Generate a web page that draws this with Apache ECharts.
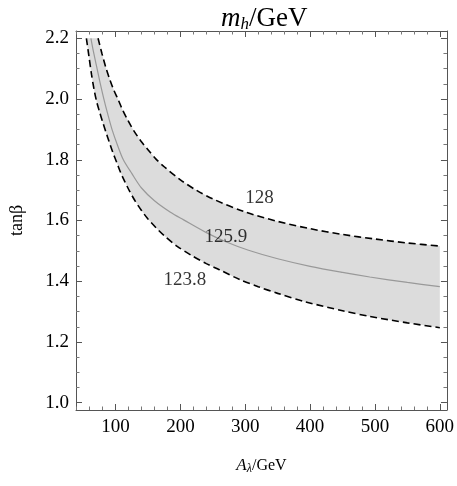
<!DOCTYPE html>
<html>
<head>
<meta charset="utf-8">
<script src="https://cdn.jsdelivr.net/npm/echarts@6/dist/echarts.min.js"></script>
<style>
  html, body { margin: 0; padding: 0; background: #fff; }
  #chart { width: 457px; height: 486px; }
</style>
</head>
<body>
<div id="chart"></div>
<script>
// curve m_h = 128 (upper dashed)
const upperA = [73, 79, 85, 91, 97, 104, 110, 119, 128, 139, 150, 162, 175, 200, 225, 250, 300, 350, 400, 450, 500, 550, 600];
const upperT = [2.20, 2.15, 2.104, 2.065, 2.031, 1.998, 1.968, 1.930, 1.896, 1.862, 1.833, 1.803, 1.777, 1.734, 1.699, 1.671, 1.628, 1.597, 1.573, 1.554, 1.539, 1.526, 1.516];
// curve m_h = 125.9 (central solid)
const centerA = [62, 66, 70, 76, 82, 88, 94.5, 103, 112, 125, 140, 160, 184, 205, 240, 270, 305, 350, 400, 450, 492, 550, 600];
const centerT = [2.20, 2.155, 2.115, 2.055, 2.00, 1.95, 1.90, 1.848, 1.80, 1.755, 1.707, 1.665, 1.628, 1.602, 1.560, 1.530, 1.502, 1.474, 1.449, 1.429, 1.414, 1.396, 1.382];
// curve m_h = 123.8 (lower dashed)
const lowerA = [55, 59, 63, 67, 71, 75, 80, 85, 90, 96, 102, 108, 115, 122, 130, 140, 150, 162, 175, 195, 217, 240, 260, 292, 320, 350, 393, 450, 492, 550, 600];
const lowerT = [2.20, 2.14, 2.08, 2.03, 1.99, 1.96, 1.925, 1.892, 1.86, 1.823, 1.79, 1.757, 1.725, 1.695, 1.665, 1.633, 1.605, 1.577, 1.55, 1.515, 1.485, 1.458, 1.438, 1.405, 1.382, 1.36, 1.332, 1.303, 1.284, 1.263, 1.247];
// contour labels
const labelText = ['128', '125.9', '123.8'];
const labelA = [322, 270, 207];
const labelT = [1.673, 1.544, 1.404];

const xTicks = [100, 200, 300, 400, 500, 600];
const yTicks = [1.0, 1.2, 1.4, 1.6, 1.8, 2.0, 2.2];

const FONT = '"Liberation Serif", "DejaVu Serif", serif';
const xMin = 39, xMax = 611, yMin = 0.976, yMax = 2.224;

function pairs(xs, ys) {
    return xs.map((x, i) => [x, ys[i]]);
}

const chart = echarts.init(document.getElementById('chart'));

const frameLine = { show: true, lineStyle: { color: '#555', width: 1 } };

function xAxisDef(pos, showLabels) {
    return {
        type: 'value', position: pos, min: xMin, max: xMax,
        splitNumber: 5, minInterval: 100, maxInterval: 100,
        axisLine: frameLine,
        axisTick: { show: true, inside: true, length: 6, lineStyle: { color: '#555' } },
        minorTick: { show: true, splitNumber: 5, length: 3.5, lineStyle: { color: '#777' } },
        splitLine: { show: false },
        axisLabel: {
            show: showLabels, margin: 8, color: '#000', fontSize: 19, fontFamily: FONT,
            showMinLabel: false, showMaxLabel: false,
            formatter: v => xTicks.indexOf(v) >= 0 ? String(v) : ''
        },
        z: 10
    };
}

function yAxisDef(pos, showLabels) {
    return {
        type: 'value', position: pos, min: yMin, max: yMax,
        splitNumber: 5, minInterval: 0.2, maxInterval: 0.2,
        axisLine: frameLine,
        axisTick: { show: true, inside: true, length: 6, lineStyle: { color: '#555' } },
        minorTick: { show: true, splitNumber: 4, length: 3.5, lineStyle: { color: '#777' } },
        splitLine: { show: false },
        axisLabel: {
            show: showLabels, margin: 7, color: '#000', fontSize: 19, fontFamily: FONT,
            showMinLabel: false, showMaxLabel: false,
            formatter: v => {
                const hit = yTicks.find(t => Math.abs(t - v) < 1e-6);
                return hit !== undefined ? hit.toFixed(1) : '';
            }
        },
        z: 10
    };
}

const xBottom = xAxisDef('bottom', true);
xBottom.name = '{i|A}{s|λ}{n|/GeV}';
xBottom.nameLocation = 'middle';
xBottom.nameGap = 46;
xBottom.nameTextStyle = {
    fontFamily: FONT, fontSize: 16, color: '#000',
    rich: {
        i: { fontFamily: FONT, fontSize: 17, fontStyle: 'italic', color: '#000' },
        s: { fontFamily: FONT, fontSize: 12, fontStyle: 'italic', color: '#000', padding: [7, 0, 0, 0] },
        n: { fontFamily: FONT, fontSize: 16, color: '#000' }
    }
};

const yLeft = yAxisDef('left', true);
yLeft.name = 'tanβ';
yLeft.nameLocation = 'middle';
yLeft.nameRotate = 90;
yLeft.nameGap = 50;
yLeft.nameTextStyle = { fontFamily: FONT, fontSize: 18, color: '#000' };

const option = {
    backgroundColor: '#fff',
    animation: false,
    title: {
        text: '{i|m}{s|h}{n|/GeV}',
        left: 216, top: 0,
        textStyle: {
            fontFamily: FONT, fontSize: 26, fontWeight: 'normal', color: '#000',
            rich: {
                i: { fontFamily: FONT, fontSize: 27, fontStyle: 'italic', color: '#000' },
                s: { fontFamily: FONT, fontSize: 17, fontStyle: 'italic', color: '#000', padding: [11, 0, 0, 0] },
                n: { fontFamily: FONT, fontSize: 27, color: '#000' }
            }
        }
    },
    grid: { left: 72, right: 6, top: 31, bottom: 76, containLabel: false },
    xAxis: [xBottom, xAxisDef('top', false)],
    yAxis: [yLeft, yAxisDef('right', false)],
    series: [
        {
            // shaded band between the 123.8 and 128 contours
            type: 'custom',
            data: [0],
            silent: true,
            z: 1,
            renderItem: function (params, api) {
                const pts = [];
                lowerA.forEach((a, i) => pts.push(api.coord([a, lowerT[i]])));
                for (let i = upperA.length - 1; i >= 0; i--) {
                    pts.push(api.coord([upperA[i], upperT[i]]));
                }
                return {
                    type: 'polygon',
                    shape: { points: pts },
                    style: { fill: '#dcdcdc', stroke: null }
                };
            }
        },
        {
            name: '128', type: 'line', data: pairs(upperA, upperT),
            showSymbol: false, smooth: 0.3, z: 3,
            lineStyle: { color: '#000', width: 1.6, type: [7, 4] }
        },
        {
            name: '125.9', type: 'line', data: pairs(centerA, centerT),
            showSymbol: false, smooth: 0.3, z: 3,
            lineStyle: { color: '#999', width: 1.2 }
        },
        {
            name: '123.8', type: 'line', data: pairs(lowerA, lowerT),
            showSymbol: false, smooth: 0.3, z: 3,
            lineStyle: { color: '#000', width: 1.6, type: [7, 4] }
        },
        {
            type: 'scatter', z: 5, silent: true,
            symbolSize: 0,
            data: labelA.map((a, i) => ({ value: [a, labelT[i]], name: labelText[i] })),
            label: {
                show: true, position: 'inside', formatter: p => p.name,
                fontFamily: FONT, fontSize: 19, color: '#000'
            }
        }
    ]
};

chart.setOption(option);
</script>
</body>
</html>
